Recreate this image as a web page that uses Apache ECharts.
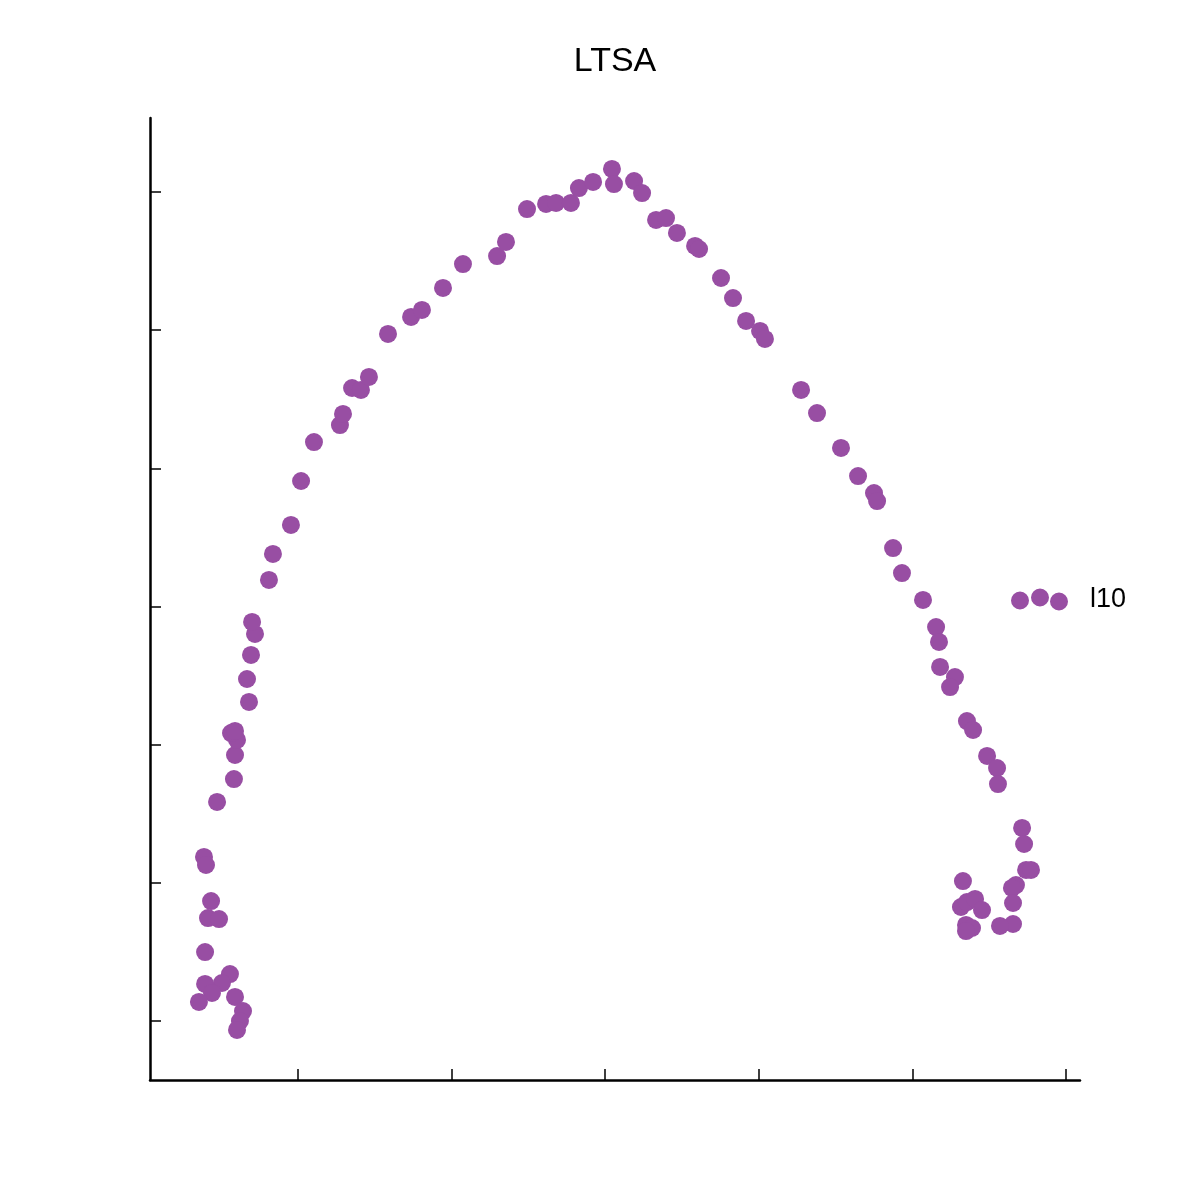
<!DOCTYPE html>
<html>
<head>
<meta charset="utf-8">
<script src="https://cdn.jsdelivr.net/npm/echarts@6/dist/echarts.min.js"></script>
<style>html,body{margin:0;padding:0;background:#fff}#c{width:1200px;height:1200px}</style>
</head>
<body>
<div id="c"></div>
<script>
const title = 'LTSA';
const seriesName = 'l10';
const xTicks = [0, 1, 2, 3, 4, 5];
const yTicks = [0, 1, 2, 3, 4, 5, 6];
const xs = [
  -0.612, -0.599, -0.566, -0.586, -0.514, -0.605, -0.443, -0.495, -0.605, -0.560,
  -0.645, -0.410, -0.358, -0.378, -0.397,
  -0.527, -0.417, -0.410, -0.397, -0.436, -0.410, -0.319, -0.332, -0.306, -0.280,
  -0.299, -0.189, -0.163, -0.046, 0.020, 0.104, 0.273, 0.293, 0.352, 0.410,
  0.462, 0.586, 0.736, 0.807, 0.944, 1.074, 1.296, 1.354, 1.491, 1.615,
  1.680, 1.777, 1.829, 1.921, 2.044, 2.057, 2.188, 2.240, 2.331, 2.396,
  2.467, 2.585, 2.611, 2.754, 2.832, 2.917, 3.008, 3.040, 3.275, 3.379,
  3.535, 3.646, 3.750, 3.770, 3.874, 3.932, 4.069, 4.154, 4.173, 4.180,
  4.277, 4.245, 4.355, 4.395, 4.486, 4.551, 4.557, 4.714, 4.727, 4.740,
  4.772, 4.674, 4.648, 4.655, 4.655, 4.570, 4.329, 4.316, 4.355, 4.408,
  4.453, 4.349, 4.388, 4.349
];
const ys = [
  1.187, 1.129, 0.868, 0.745, 0.738, 0.499, 0.340, 0.275, 0.268, 0.203,
  0.138, 0.174, 0.072, 0.000, -0.065,
  1.585, 1.751, 1.925, 2.034, 2.084, 2.099, 2.309, 2.475, 2.649, 2.801,
  2.888, 3.192, 3.380, 3.590, 3.908, 4.190, 4.313, 4.393, 4.581, 4.567,
  4.661, 4.972, 5.095, 5.146, 5.305, 5.478, 5.536, 5.638, 5.876, 5.913,
  5.920, 5.920, 6.028, 6.072, 6.166, 6.057, 6.079, 5.992, 5.797, 5.811,
  5.703, 5.609, 5.587, 5.377, 5.232, 5.066, 4.994, 4.936, 4.567, 4.400,
  4.147, 3.944, 3.821, 3.763, 3.423, 3.242, 3.047, 2.851, 2.743, 2.562,
  2.489, 2.417, 2.171, 2.106, 1.918, 1.831, 1.715, 1.397, 1.281, 1.093,
  1.093, 0.984, 0.963, 0.854, 0.702, 0.688, 1.013, 0.825, 0.861, 0.883,
  0.803, 0.695, 0.673, 0.651
];
const color = '#984ea3';

const pts = xs.map((x, i) => [x, ys[i]]);
const legendIcon = 'path://M0,12 A9,9 0 1,0 18,12 A9,9 0 1,0 0,12 Z M20,9 A9,9 0 1,0 38,9 A9,9 0 1,0 20,9 Z M39,13 A9,9 0 1,0 57,13 A9,9 0 1,0 39,13 Z';

const chart = echarts.init(document.getElementById('c'), null, {renderer: 'canvas'});
chart.setOption({
  animation: false,
  backgroundColor: '#fff',
  title: {
    text: title,
    left: 610,
    textAlign: 'center',
    top: 40,
    textStyle: {fontFamily: 'Liberation Sans, Arial, sans-serif', fontSize: 34, fontWeight: 'normal', color: '#000'}
  },
  legend: {
    data: [seriesName],
    left: 1006,
    top: 581,
    icon: legendIcon,
    itemWidth: 57,
    itemHeight: 22,
    textStyle: {fontFamily: 'Liberation Sans, Arial, sans-serif', fontSize: 27, color: '#000', padding: [0, 0, 0, 17]}
  },
  grid: {left: 150, right: 120, top: 118, bottom: 120, containLabel: false},
  xAxis: {
    type: 'value',
    min: -0.9635,
    max: 5.091,
    axisLine: {show: true, onZero: false, lineStyle: {color: '#000', width: 2.5}},
    axisTick: {show: true, inside: true, length: 11, customValues: xTicks, lineStyle: {color: '#000', width: 1.5}},
    axisLabel: {show: false},
    splitLine: {show: false}
  },
  yAxis: {
    type: 'value',
    min: -0.427,
    max: 6.535,
    axisLine: {show: true, onZero: false, lineStyle: {color: '#000', width: 2.5}},
    axisTick: {show: true, inside: true, length: 11, customValues: yTicks, lineStyle: {color: '#000', width: 1.5}},
    axisLabel: {show: false},
    splitLine: {show: false}
  },
  series: [{
    name: seriesName,
    type: 'scatter',
    data: pts,
    symbol: 'circle',
    symbolSize: 18,
    itemStyle: {color: color, opacity: 1},
    clip: false
  }]
});
</script>
</body>
</html>
